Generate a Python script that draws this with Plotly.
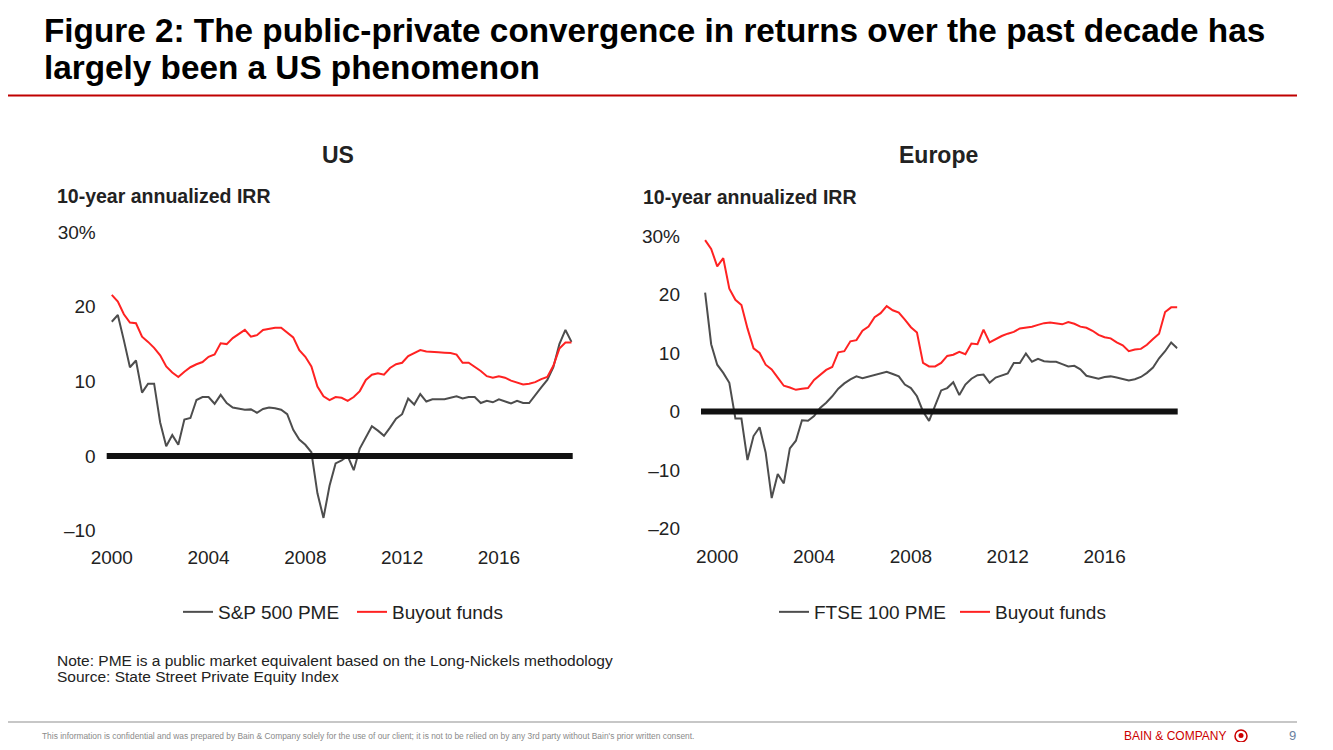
import plotly.graph_objects as go

# ---------------- data ----------------
us_start_year = 2000.0
us_sp500_pme = [18.0, 18.9, 15.5, 11.9, 12.8, 8.5, 9.7, 9.7, 4.5, 1.3, 2.8, 1.5,
                4.9, 5.1, 7.5, 7.9, 7.9, 7.0, 8.2, 7.1, 6.5, 6.3, 6.2, 6.25,
                5.8, 6.3, 6.5, 6.4, 6.2, 5.6, 3.5, 2.2, 1.5, 0.5, -5.0, -8.3,
                -4.0, -1.0, -0.6, 0.0, -1.9, 1.0, 2.6, 4.0, 3.4, 2.7, 3.8, 5.0,
                5.6, 7.7, 6.9, 8.3, 7.3, 7.6, 7.6, 7.6, 7.8, 8.0, 7.7, 7.9,
                7.9, 7.1, 7.4, 7.2, 7.6, 7.3, 7.05, 7.4, 7.1, 7.1, 8.2, 9.2,
                10.2, 11.9, 15.0, 16.9, 15.3]
us_buyout = [21.6, 20.7, 19.0, 17.9, 17.8, 16.0, 15.3, 14.5, 13.5, 12.0, 11.2, 10.6,
             11.3, 11.9, 12.3, 12.6, 13.3, 13.6, 15.1, 15.0, 15.8, 16.3, 16.9, 16.0,
             16.2, 16.9, 17.1, 17.2, 17.2, 16.5, 15.9, 14.2, 13.3, 12.0, 9.3, 8.0,
             7.5, 7.9, 7.8, 7.4, 7.9, 8.7, 10.2, 10.9, 11.1, 10.9, 11.8, 12.3,
             12.5, 13.4, 13.8, 14.2, 14.0, 14.0, 13.9, 13.85, 13.8, 13.6, 12.5, 12.5,
             12.0, 11.4, 10.7, 10.5, 10.7, 10.5, 10.1, 9.8, 9.6, 9.7, 9.9, 10.3,
             10.6, 12.1, 14.4, 15.2, 15.2]

eu_start_year = 1999.5
eu_ftse100_pme = [20.3, 11.5, 8.0, 6.6, 4.9, -1.2, -1.2, -8.3, -4.2, -2.7, -7.0, -14.8,
                  -10.7, -12.3, -6.3, -5.0, -1.5, -1.6, -0.8, 0.6, 1.5, 2.6, 3.9, 4.8,
                  5.5, 6.0, 5.7, 6.0, 6.3, 6.6, 6.8, 6.4, 6.0, 4.6, 4.0, 2.6,
                  0.0, -1.6, 1.0, 3.6, 4.0, 5.0, 2.8, 4.6, 5.6, 6.2, 6.3, 4.9,
                  5.8, 6.1, 6.5, 8.3, 8.3, 9.9, 8.5, 9.0, 8.6, 8.5, 8.5, 8.1,
                  7.7, 7.8, 7.2, 6.1, 5.8, 5.6, 5.9, 6.0, 5.8, 5.6, 5.3, 5.5,
                  5.9, 6.6, 7.5, 9.1, 10.3, 11.8, 10.8]
eu_buyout = [29.3, 27.8, 24.8, 26.2, 21.0, 19.1, 18.2, 14.2, 10.8, 10.0, 8.0, 7.2,
             5.8, 4.4, 4.1, 3.7, 3.9, 4.0, 5.4, 6.2, 7.1, 7.6, 10.1, 10.3,
             12.0, 12.2, 13.8, 14.5, 16.1, 16.8, 18.0, 17.3, 16.9, 15.7, 14.4, 13.5,
             8.3, 7.7, 7.7, 8.3, 9.5, 9.7, 10.2, 9.8, 11.6, 11.5, 14.0, 11.8,
             12.4, 12.9, 13.3, 13.6, 14.2, 14.3, 14.5, 14.8, 15.1, 15.2, 15.1, 14.9,
             15.3, 15.0, 14.5, 14.3, 13.8, 13.1, 12.7, 12.5, 11.8, 11.3, 10.3, 10.6,
             10.7, 11.4, 12.4, 13.3, 17.0, 17.8, 17.8]

x_tick_years = [2000, 2004, 2008, 2012, 2016]
us_y_ticks = [-10, 0, 10, 20, 30]
us_y_labels = ["\u201310", "0", "10", "20", "30%"]
eu_y_ticks = [-20, -10, 0, 10, 20, 30]
eu_y_labels = ["\u201320", "\u201310", "0", "10", "20", "30%"]

title_line1 = "Figure 2: The public-private convergence in returns over the past decade has"
title_line2 = "largely been a US phenomenon"
note_text = "Note: PME is a public market equivalent based on the Long-Nickels methodology"
source_text = "Source: State Street Private Equity Index"
footer_text = ("This information is confidential and was prepared by Bain & Company solely for the use "
               "of our client; it is not to be relied on by any 3rd party without Bain's prior written consent.")

# quarterly time axis
us_x = [us_start_year + 0.25 * i for i in range(len(us_buyout))]
eu_x = [eu_start_year + 0.25 * i for i in range(len(eu_buyout))]

# ---------------- styling ----------------
PAGE_PAD = 8            # default body margin of the html page
W, H = 1333 - 2 * PAGE_PAD, 750 - 2 * PAGE_PAD
FONT = "Liberation Sans, Arial, sans-serif"
GRAY = "#4d4d4d"
RED = "#ff2222"
TXT = "#222222"


def px(x):
    """page pixel x -> paper fraction"""
    return (x - PAGE_PAD) / W


def py(y):
    """page pixel y -> paper fraction"""
    return 1 - (y - PAGE_PAD) / H


fig = go.Figure()

fig.add_trace(go.Scatter(x=us_x, y=us_sp500_pme, mode="lines", name="S&P 500 PME",
                         line=dict(color=GRAY, width=2), xaxis="x", yaxis="y", legend="legend"))
fig.add_trace(go.Scatter(x=us_x, y=us_buyout, mode="lines", name="Buyout funds",
                         line=dict(color=RED, width=2), xaxis="x", yaxis="y", legend="legend"))
fig.add_trace(go.Scatter(x=eu_x, y=eu_ftse100_pme, mode="lines", name="FTSE 100 PME",
                         line=dict(color=GRAY, width=2), xaxis="x2", yaxis="y2", legend="legend2"))
fig.add_trace(go.Scatter(x=eu_x, y=eu_buyout, mode="lines", name="Buyout funds",
                         line=dict(color=RED, width=2), xaxis="x2", yaxis="y2", legend="legend2"))

axis_common = dict(showgrid=False, zeroline=False, showline=False, ticks="", automargin=False,
                   tickfont=dict(family=FONT, size=19, color=TXT), fixedrange=True)

legend_common = dict(orientation="h", yanchor="middle", xanchor="left",
                     font=dict(family=FONT, size=19, color=TXT), bgcolor="rgba(0,0,0,0)",
                     itemwidth=30, tracegroupgap=0, borderwidth=0)

fig.update_layout(
    template="none",
    width=W, height=H,
    margin=dict(l=0, r=0, t=0, b=0, autoexpand=False),
    paper_bgcolor="white", plot_bgcolor="white",
    font=dict(family=FONT, color=TXT),
    xaxis=dict(domain=[px(106.7), px(572.7)], range=[1999.79, 2019.05], anchor="y",
               tickvals=x_tick_years, ticklabelstandoff=-2, **axis_common),
    yaxis=dict(domain=[py(545.5), py(228.5)], range=[-12, 30.5], anchor="x",
               tickvals=us_y_ticks, ticktext=us_y_labels, ticklabelstandoff=10, **axis_common),
    xaxis2=dict(domain=[px(701), px(1177.7)], range=[1999.33, 2019.02], anchor="y2",
                tickvals=x_tick_years, ticklabelstandoff=0, **axis_common),
    yaxis2=dict(domain=[py(543.1), py(227.2)], range=[-22.5, 31.5], anchor="x2",
                tickvals=eu_y_ticks, ticktext=eu_y_labels, ticklabelstandoff=20, **axis_common),
    legend=dict(x=px(178), y=py(612), entrywidth=129, **legend_common),
    legend2=dict(x=px(774), y=py(612), entrywidth=136, **legend_common),
    showlegend=True,
)

# zero reference lines
fig.add_shape(type="line", xref="x domain", yref="y", x0=0, x1=1, y0=0, y1=0,
              line=dict(color="#111111", width=6))
fig.add_shape(type="line", xref="x2 domain", yref="y2", x0=0, x1=1, y0=0, y1=0,
              line=dict(color="#111111", width=6))

# header rule and footer rule
fig.add_shape(type="line", xref="paper", yref="paper", x0=px(PAGE_PAD), x1=px(1297), y0=py(95.5), y1=py(95.5),
              line=dict(color="#c00000", width=2))
fig.add_shape(type="line", xref="paper", yref="paper", x0=px(PAGE_PAD), x1=px(1297), y0=py(722), y1=py(722),
              line=dict(color="#b5b5b5", width=1.5))
# small logo circle
fig.add_shape(type="circle", xref="paper", yref="paper",
              x0=px(1235), x1=px(1247), y0=py(742), y1=py(730),
              line=dict(color="#cc0000", width=1.5))
fig.add_shape(type="circle", xref="paper", yref="paper",
              x0=px(1238.5), x1=px(1243.5), y0=py(738), y1=py(733),
              line=dict(color="#cc0000", width=0), fillcolor="#cc0000")

ann = []
ann.append(dict(text="<b>" + title_line1 + "</b>", x=px(42), y=py(30), xanchor="left", yanchor="middle",
                font=dict(family=FONT, size=33.3, color="black")))
ann.append(dict(text="<b>" + title_line2 + "</b>", x=px(42), y=py(68), xanchor="left", yanchor="middle",
                font=dict(family=FONT, size=33.3, color="black")))
ann.append(dict(text="<b>US</b>", x=px(338), y=py(155), xanchor="center", yanchor="middle",
                font=dict(family=FONT, size=23, color=TXT)))
ann.append(dict(text="<b>Europe</b>", x=px(938), y=py(155), xanchor="center", yanchor="middle",
                font=dict(family=FONT, size=23, color=TXT)))
ann.append(dict(text="<b>10-year annualized IRR</b>", x=px(55), y=py(196), xanchor="left", yanchor="middle",
                font=dict(family=FONT, size=19.5, color=TXT)))
ann.append(dict(text="<b>10-year annualized IRR</b>", x=px(641), y=py(197), xanchor="left", yanchor="middle",
                font=dict(family=FONT, size=19.5, color=TXT)))
ann.append(dict(text=note_text, x=px(55), y=py(660), xanchor="left", yanchor="middle",
                font=dict(family=FONT, size=15.5, color=TXT)))
ann.append(dict(text=source_text, x=px(55), y=py(676), xanchor="left", yanchor="middle",
                font=dict(family=FONT, size=15.5, color=TXT)))
ann.append(dict(text=footer_text, x=px(40), y=py(736), xanchor="left", yanchor="middle",
                font=dict(family=FONT, size=8.4, color="#8a8a8a")))
ann.append(dict(text="BAIN &amp; COMPANY", x=px(1228), y=py(736), xanchor="right", yanchor="middle",
                font=dict(family=FONT, size=12, color="#cc0000")))
ann.append(dict(text="9", x=px(1292), y=py(735), xanchor="center", yanchor="middle",
                font=dict(family=FONT, size=13, color="#6a7fa0")))
for a in ann:
    a.update(xref="paper", yref="paper", showarrow=False)
fig.update_layout(annotations=ann)

fig.write_html("out.html")
